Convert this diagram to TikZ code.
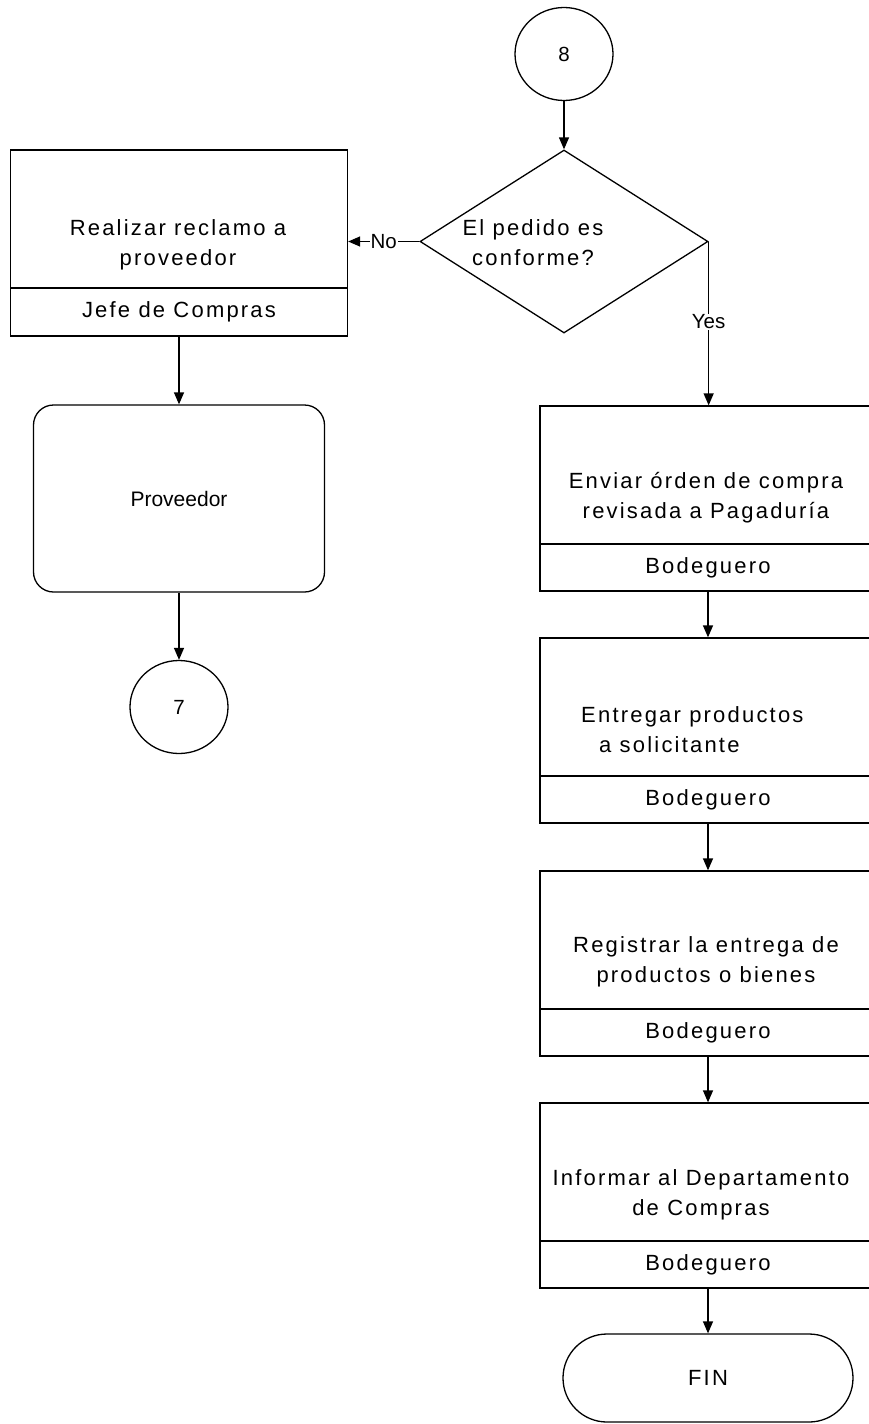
\documentclass[tikz,border=0pt]{standalone}
\usepackage{fontspec}
\setmainfont{Liberation Sans}
\newfontfamily\spacedsans[LetterSpace=10]{Liberation Sans}
\usetikzlibrary{shapes.geometric,shapes.misc,arrows.meta}
\newcommand\taskfont{\spacedsans\fontsize{22}{30}\selectfont}
\newcommand\plainfont{\fontsize{20.5}{26}\selectfont}
\begin{document}
\begin{tikzpicture}[x=1pt,y=-1pt]
\tikzset{
  stroke/.style={line width=1.3pt, draw=black},
  flow/.style={stroke, -{Triangle[length=12pt,width=10pt]}},
  taskbox/.style={stroke, rectangle, minimum width=336pt, minimum height=138pt, inner sep=0pt},
  rolebox/.style={stroke, rectangle, minimum width=336pt, minimum height=47pt, inner sep=0pt, font=\taskfont},
  tasktext/.style={font=\taskfont, align=center, inner sep=0pt},
  connector/.style={stroke, ellipse, minimum width=98pt, minimum height=93pt, inner sep=0pt, font=\plainfont},
  flowlabel/.style={fill=white, inner sep=1pt, font=\plainfont},
}
\useasboundingbox (0,0) rectangle (868,1424);

% entry connector and decision
\node[connector] (c8) at (564,54) {8};
\node[stroke, diamond, minimum width=288pt, minimum height=183pt, inner sep=0pt] (dec) at (564,241.5) {};
\node[tasktext] (dectext) at (533,243) {El pedido es\\conforme?};

% "No" branch
\node[taskbox, minimum width=337pt] (rt) at (179,219) {};
\node[rolebox, minimum width=337pt, minimum height=48pt] (rr) at (179,312) {Jefe de Compras};
\node[tasktext] (rtext) at (178,245) {Realizar reclamo a\\proveedor};
\node[stroke, rectangle, rounded corners=20pt, minimum width=291pt, minimum height=187pt, font=\fontsize{21}{26}\selectfont] (prov) at (179,498.5) {Proveedor};
\node[connector] (c7) at (179,707) {7};

% "Yes" branch
\node[taskbox] (t1) at (708,475) {};
\node[rolebox] (r1) at (708,567.5) {Bodeguero};
\node[tasktext] (x1) at (706,498) {Enviar órden de compra\\revisada  a Pagaduría};

\node[taskbox] (t2) at (708,707) {};
\node[rolebox] (r2) at (708,799.5) {Bodeguero};
\node[tasktext, align=left, anchor=west] (x2) at (581,730) {Entregar productos\\\hspace*{18pt}a solicitante};

\node[taskbox] (t3) at (708,940) {};
\node[rolebox] (r3) at (708,1032.5) {Bodeguero};
\node[tasktext] (x3) at (706,962) {Registrar la entrega de\\productos o bienes};

\node[taskbox] (t4) at (708,1172) {};
\node[rolebox] (r4) at (708,1264.5) {Bodeguero};
\node[tasktext] (x4) at (701,1195) {Informar  al Departamento\\de Compras};

\node[stroke, rounded rectangle, minimum width=290pt, minimum height=88pt, inner sep=0pt, font=\taskfont] (fin) at (708,1378) {FIN};

% connectors
\draw[flow] (c8) -- (dec.north);
\draw[flow] (dec.west) -- node[flowlabel] (no) {No} (rt.east |- dec.west);
\draw[flow] (dec.east) -- node[flowlabel, pos=0.49] (yes) {Yes} (t1.north -| dec.east);
\draw[flow] (rr.south) -- (prov.north);
\draw[flow] (prov.south) -- (c7.north);
\draw[flow] (r1.south) -- (t2.north);
\draw[flow] (r2.south) -- (t3.north);
\draw[flow] (r3.south) -- (t4.north);
\draw[flow] (r4.south) -- (fin.north);
\end{tikzpicture}
\end{document}
